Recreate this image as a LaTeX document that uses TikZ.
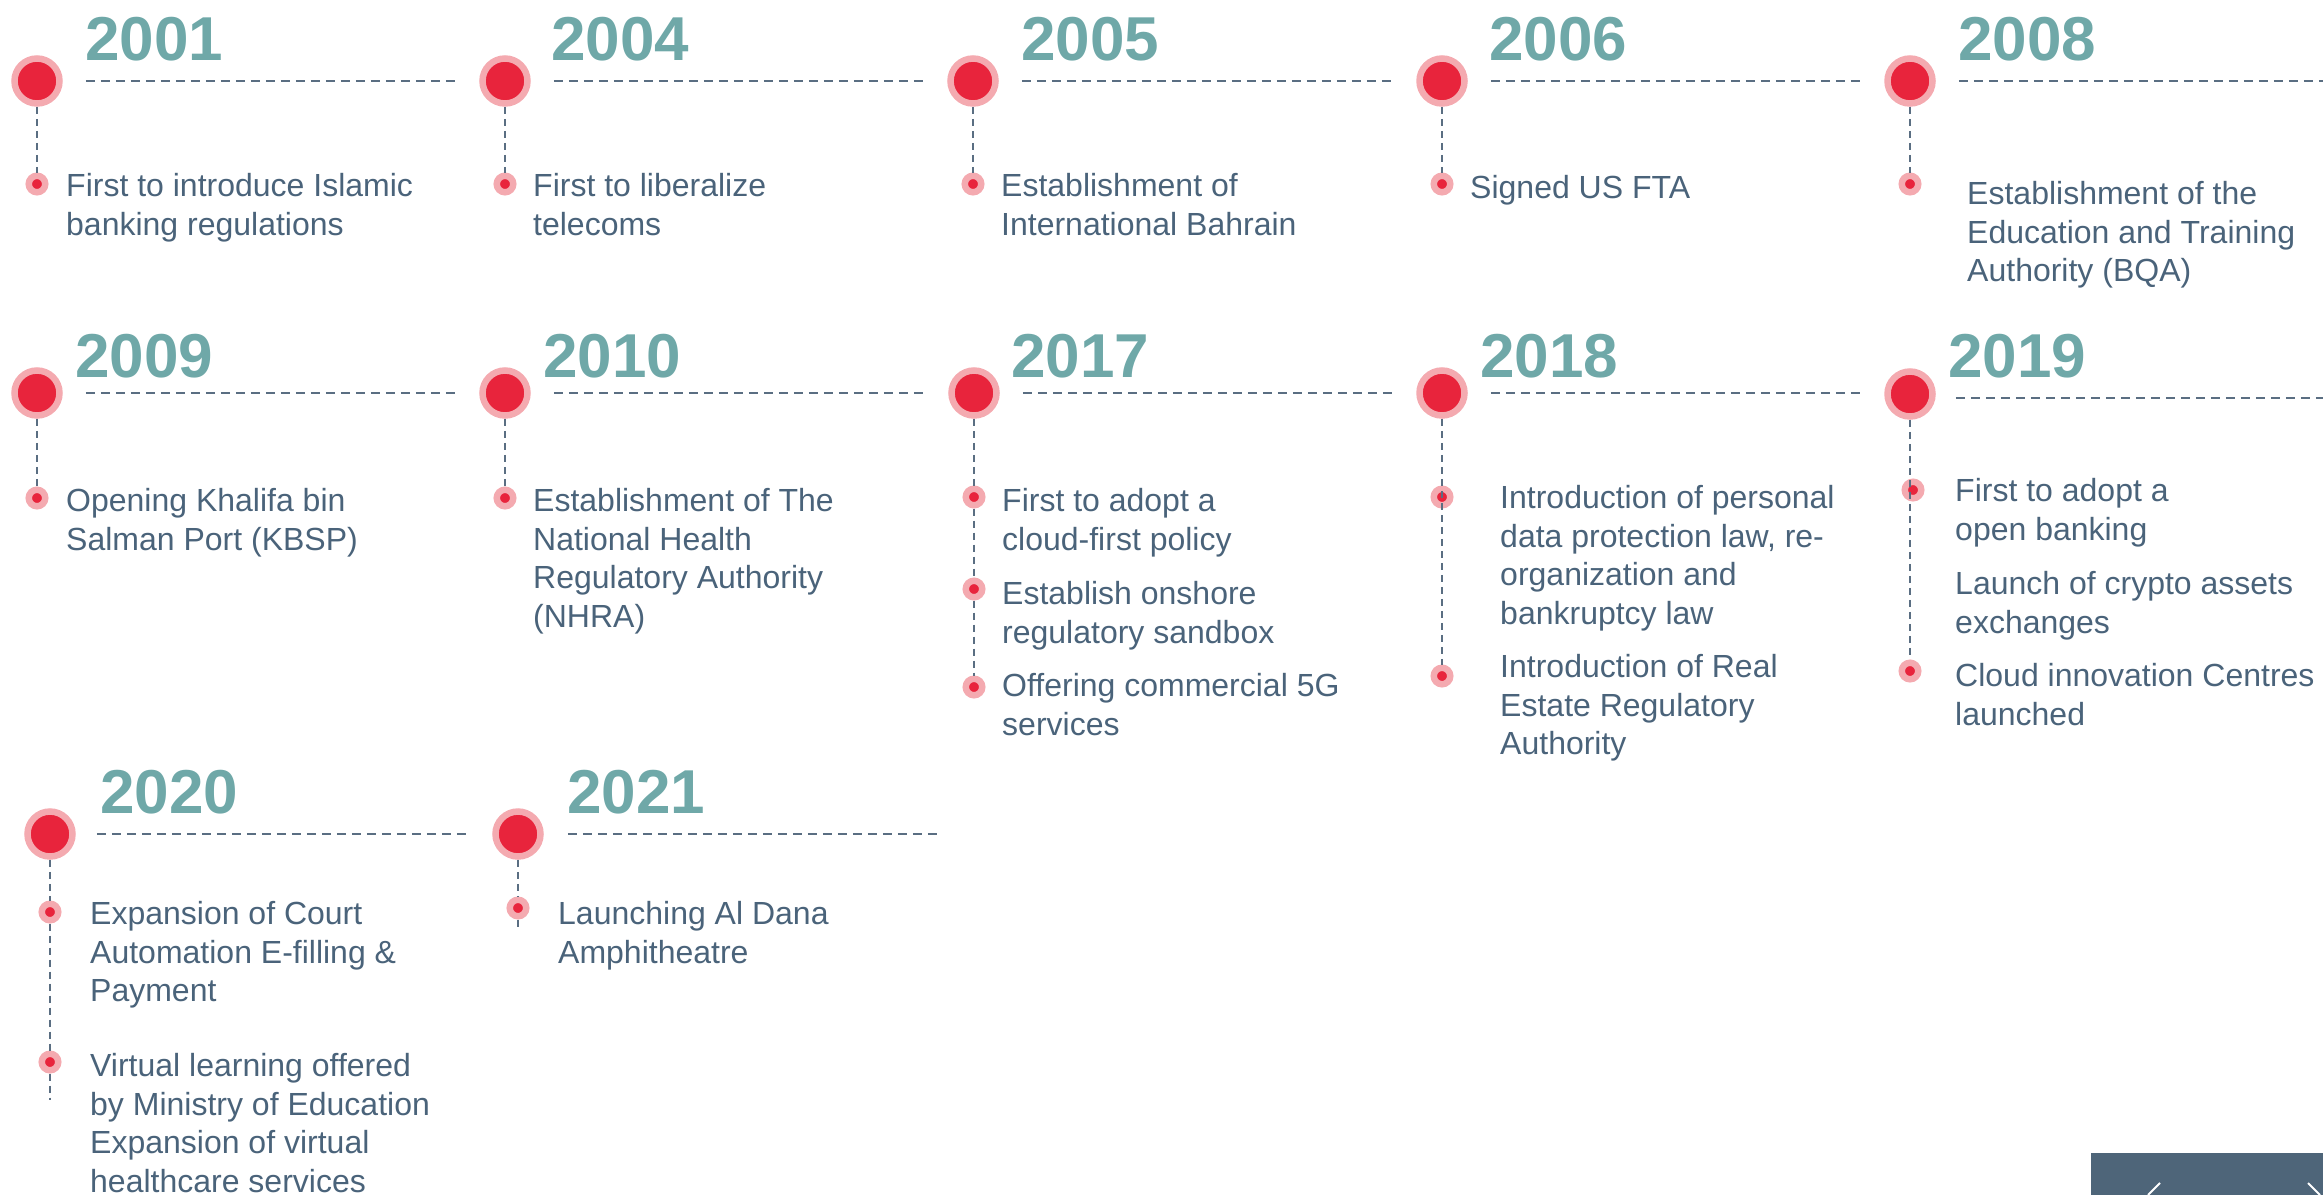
\documentclass[tikz,border=0pt]{standalone}
\usepackage{fontspec}
\setmainfont{Liberation Sans}
\usepackage{xcolor}
\usepackage{tikz}

\definecolor{yearteal}{RGB}{111,168,168}
\definecolor{dotred}{RGB}{232,36,60}
\definecolor{ringpink}{RGB}{244,170,176}
\definecolor{bodyslate}{RGB}{74,99,122}
\definecolor{dashslate}{RGB}{90,110,130}
\definecolor{boxslate}{RGB}{78,101,121}

\tikzset{
	yeardot/.style={circle,draw=ringpink,fill=dotred,line width=6.5pt,minimum size=45pt,inner sep=0pt},
	itemdot/.style={circle,draw=ringpink,fill=dotred,line width=6.5pt,minimum size=16.5pt,inner sep=0pt},
	yearlabel/.style={anchor=base west,inner sep=0pt,text=yearteal,font=\fontsize{62}{62}\selectfont\bfseries},
	itemtext/.style={anchor=north west,yshift=21.6pt,inner sep=0pt,align=left,text=bodyslate,
		font=\fontsize{32}{38.5}\selectfont,execute at begin node={\strut}},
	hdash/.style={draw=dashslate,line width=1.5pt,dash pattern=on 9pt off 6pt},
	vdash/.style={draw=dashslate,line width=1.5pt,dash pattern=on 7pt off 5pt}
}

\begin{document}
\begin{tikzpicture}[x=1pt,y=-1pt]
\useasboundingbox (0,0) rectangle (2323,1195);
%
% first row
\node[yeardot] (y01) at (37,81) {};
\node[yeardot] (y02) at (505,81) {};
\node[yeardot] (y03) at (973,81) {};
\node[yeardot] (y04) at (1442,81) {};
\node[yeardot] (y05) at (1910,81) {};
\node[yearlabel] (l01) at (85,60) {2001};
\node[yearlabel] (l02) at (551,60) {2004};
\node[yearlabel] (l03) at (1021,60) {2005};
\node[yearlabel] (l04) at (1489,60) {2006};
\node[yearlabel] (l05) at (1958,60) {2008};
\node[itemdot] (b01) at (37,184) {};
\node[itemdot] (b02) at (505,184) {};
\node[itemdot] (b03) at (973,184) {};
\node[itemdot] (b04) at (1442,184) {};
\node[itemdot] (b05) at (1910,184) {};
\node[itemtext] (e01) at (66,195) {First to introduce Islamic\\banking regulations};
\node[itemtext] (e02) at (533,195) {First to liberalize\\telecoms};
\node[itemtext] (e03) at (1001,195) {Establishment of\\International Bahrain};
\node[itemtext] (e04) at (1470,193) {Signed US FTA};
\node[itemtext] (e05) at (1967,203) {Establishment of the\\Education and Training\\Authority (BQA)};
%
% second row
\node[yeardot] (y06) at (37,393) {};
\node[yeardot] (y07) at (505,393) {};
\node[yeardot] (y08) at (974,393) {};
\node[yeardot] (y09) at (1442,393) {};
\node[yeardot] (y10) at (1910,394) {};
\node[yearlabel] (l06) at (75,377) {2009};
\node[yearlabel] (l07) at (543,377) {2010};
\node[yearlabel] (l08) at (1011,377) {2017};
\node[yearlabel] (l09) at (1480,377) {2018};
\node[yearlabel] (l10) at (1948,377) {2019};
\node[itemdot] (b06) at (37,498) {};
\node[itemdot] (b07) at (505,498) {};
\node[itemdot] (b08a) at (974,497) {};
\node[itemdot] (b08b) at (974,589) {};
\node[itemdot] (b08c) at (974,687) {};
\node[itemdot] (b09a) at (1442,497) {};
\node[itemdot] (b09b) at (1442,676) {};
\node[itemdot] (b10a) at (1913,490) {};
\node[itemdot] (b10b) at (1910,671) {};
\node[itemtext] (e06) at (66,510) {Opening Khalifa bin\\Salman Port (KBSP)};
\node[itemtext] (e07) at (533,510) {Establishment of The\\National Health\\Regulatory Authority\\(NHRA)};
\node[itemtext] (e08a) at (1002,510) {First to adopt a\\cloud-first policy};
\node[itemtext] (e08b) at (1002,603) {Establish onshore\\regulatory sandbox};
\node[itemtext] (e08c) at (1002,695) {Offering commercial 5G\\services};
\node[itemtext] (e09a) at (1500,507) {Introduction of personal\\data protection law, re-\\organization and\\bankruptcy law};
\node[itemtext] (e09b) at (1500,676) {Introduction of Real\\Estate Regulatory\\Authority};
\node[itemtext] (e10a) at (1955,500) {First to adopt a\\open banking};
\node[itemtext] (e10b) at (1955,593) {Launch of crypto assets\\exchanges};
\node[itemtext] (e10c) at (1955,685) {Cloud innovation Centres\\launched};
%
% third row
\node[yeardot] (y11) at (50,834) {};
\node[yeardot] (y12) at (518,834) {};
\node[yearlabel] (l11) at (100,813) {2020};
\node[yearlabel] (l12) at (567,813) {2021};
\node[itemdot] (b11a) at (50,912) {};
\node[itemdot] (b11b) at (50,1062) {};
\node[itemdot] (b12) at (518,908) {};
\node[itemtext] (e11a) at (90,923) {Expansion of Court\\Automation E-filling \&\\Payment};
\node[itemtext] (e11b) at (90,1075) {Virtual learning offered\\by Ministry of Education\\Expansion of virtual\\healthcare services};
\node[itemtext] (e12) at (558,923) {Launching Al Dana\\Amphitheatre};
%
% dashed rules beside the years
\draw[hdash] ([xshift=23pt]y01.east) -- ++(370,0);
\draw[hdash] ([xshift=23pt]y02.east) -- ++(370,0);
\draw[hdash] ([xshift=23pt]y03.east) -- ++(370,0);
\draw[hdash] ([xshift=23pt]y04.east) -- ++(370,0);
\draw[hdash] ([xshift=23pt]y05.east) -- ++(390,0);
\draw[hdash] ([xshift=23pt]y06.east) -- ++(370,0);
\draw[hdash] ([xshift=23pt]y07.east) -- ++(370,0);
\draw[hdash] ([xshift=23pt]y08.east) -- ++(370,0);
\draw[hdash] ([xshift=23pt]y09.east) -- ++(370,0);
\draw[hdash] ([xshift=20pt,yshift=-4pt]y10.east) -- ++(390,0);
\draw[hdash] ([xshift=21pt]y11.east) -- ++(370,0);
\draw[hdash] ([xshift=24pt]y12.east) -- ++(370,0);
%
% dashed stems
\draw[vdash] (y01) -- (b01);
\draw[vdash] (y02) -- (b02);
\draw[vdash] (y03) -- (b03);
\draw[vdash] (y04) -- (b04);
\draw[vdash] (y05) -- (b05);
\draw[vdash] (y06) -- (b06);
\draw[vdash] (y07) -- (b07);
\draw[vdash] (y08) -- (b08a);
\draw[vdash] (b08a) -- (b08b);
\draw[vdash] (b08b) -- (b08c);
\draw[vdash] (y09) -- (b09b);
\draw[vdash] (y10) -- (b10b);
\draw[vdash] (y11) -- (b11a);
\draw[vdash] (b11a) -- (b11b);
\draw[vdash] (b11b.south) -- ++(0,26);
\draw[vdash] (y12) -- (b12);
\draw[vdash] (b12.south) -- ++(0,8);
%
% corner tab
\fill[boxslate] (2091,1153) rectangle (2323,1195);
\draw[white,line width=2pt] (2160,1183) -- (2148,1195);
\draw[white,line width=2pt] (2308,1183) -- (2320,1195);
\end{tikzpicture}
\end{document}
